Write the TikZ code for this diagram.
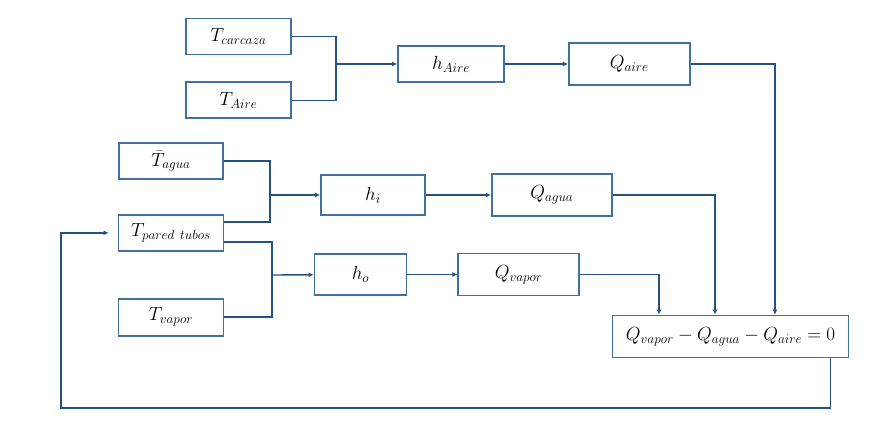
\RequirePackage{fix-cm}
\documentclass[tikz,border=0pt]{standalone}
\usepackage{amsmath}
\usepackage{xcolor}
\usepackage{tikz}
\usetikzlibrary{arrows.meta,positioning,calc}
\definecolor{boxline}{RGB}{65,113,156}
\definecolor{linkline}{RGB}{38,82,130}
\tikzset{
  box/.style={
    draw=boxline,
    fill=white,
    line width=1.8pt,
    align=center,
    inner sep=2pt,
    minimum width=105pt,
    minimum height=36pt,
    font=\fontsize{19}{22}\selectfont
  },
  link/.style={draw=linkline, line width=1.4pt},
  arrow/.style={link, -{Latex[length=5pt,width=5pt]}}
}
\begin{document}
\begin{tikzpicture}[x=1pt,y=-1pt]
  \useasboundingbox (0,0) rectangle (869,442);

  % aire
  \node[box] (tcarcaza) at (238.5,36.5) {$T_{carcaza}$};
  \node[box, below=26pt of tcarcaza] (taire) {$T_{Aire}$};
  \node[box, minimum width=106pt] (haire) at (451,64) {$h_{Aire}$};
  \node[box, minimum width=121pt, minimum height=42pt, right=63pt of haire] (qaire) {$Q_{aire}$};

  % agua y vapor
  \node[box, minimum width=104pt] (tagua) at (171,161) {$\bar{T}_{agua}$};
  \node[box, below=34pt of tagua] (tpared) {$T_{pared\ tubos}$};
  \node[box, minimum height=37pt, below=46pt of tpared] (tvapor) {$T_{vapor}$};
  \node[box, minimum width=104pt, minimum height=40pt] (hi) at (373,195) {$h_i$};
  \node[box, minimum width=120pt, minimum height=42pt, right=65pt of hi] (qagua) {$Q_{agua}$};
  \node[box, minimum width=92pt, minimum height=41pt] (ho) at (360.5,274.5) {$h_o$};
  \node[box, minimum width=121pt, minimum height=42pt, right=50pt of ho] (qvapor) {$Q_{vapor}$};

  % balance
  \node[box, minimum width=236pt, minimum height=42pt] (balance) at (730.5,336.5) {$Q_{vapor}-Q_{agua}-Q_{aire}=0$};

  \coordinate (jaire) at (336,64);
  \coordinate (jhi) at (270,195);
  \coordinate (jho) at (272,275);
  \coordinate (back) at (61,408);

  \draw[link] (tcarcaza.east) -| (jaire);
  \draw[link] (taire.east) -| (jaire);
  \draw[arrow] (jaire) -- (haire);
  \draw[arrow] (haire) -- (qaire);

  \draw[link] (tagua.east) -| (jhi);
  \draw[link] ([yshift=11pt]tpared.east) -| (jhi);
  \draw[arrow] (jhi) -- (hi);
  \draw[arrow] (hi) -- (qagua);

  \draw[link] ([yshift=-9pt]tpared.east) -| (jho);
  \draw[link] (tvapor.east) -| (jho);
  \draw[arrow] (jho) -- (ho);
  \draw[arrow] (ho) -- (qvapor);

  \draw[arrow] (qaire.east) -| ([xshift=44.5pt]balance.north);
  \draw[arrow] (qagua.east) -| ([xshift=-15.5pt]balance.north);
  \draw[arrow] (qvapor.east) -| ([xshift=-71.5pt]balance.north);

  \draw[arrow, shorten >=9pt] ([xshift=100pt]balance.south) |- (back) |- (tpared.west);
\end{tikzpicture}
\end{document}
